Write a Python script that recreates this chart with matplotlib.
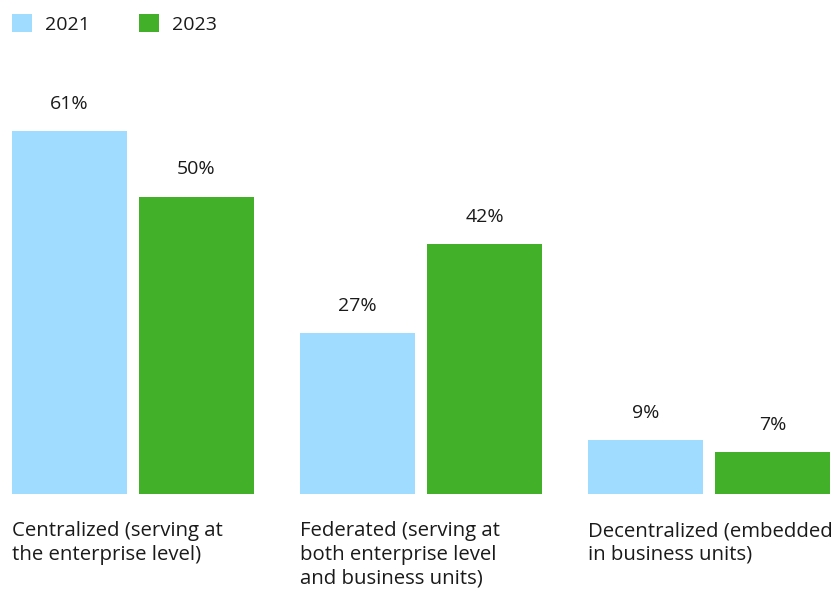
import matplotlib
matplotlib.use("Agg")
import matplotlib.pyplot as plt
import numpy as np

plt.rcParams['font.family'] = ['Open Sans', 'DejaVu Sans']

categories = [
    "Centralized (serving at\nthe enterprise level)",
    "Federated (serving at\nboth enterprise level\nand business units)",
    "Decentralized (embedded\nin business units)",
]
years = ["2021", "2023"]
values_2021 = [61, 27, 9]
values_2023 = [50, 42, 7]

colors = {"2021": "#A0DCFF", "2023": "#43B02A"}
text_color = "#1a1a1a"

W, H = 835, 593
fig = plt.figure(figsize=(W / 100, H / 100), dpi=100)
ax = fig.add_axes([10.6 / W, (H - 494) / H, 820.8 / W, 416.5 / H])

x = np.arange(len(categories))
bar_w = 0.399
off = 0.2205

bars = []
for series, vals, sgn in [("2021", values_2021, -1), ("2023", values_2023, 1)]:
    b = ax.bar(x + sgn * off, vals, width=bar_w, color=colors[series], label=series)
    bars.append(b)
    for xi, v in zip(x + sgn * off, vals):
        ax.annotate(f"{v}%", xy=(xi, v), xytext=(0, 22), textcoords="offset pixels",
                    ha="center", va="baseline", fontsize=14, color=text_color)

ax.set_xlim(-0.425, 2.425)
ax.set_ylim(0, 70)
ax.axis("off")

for xi, lab in zip(x, categories):
    ax.annotate(lab, xy=(xi - off - bar_w / 2, 0), xytext=(0, -27), textcoords="offset pixels",
                ha="left", va="top", fontsize=14.7, color=text_color, linespacing=1.24,
                annotation_clip=False)

fig.legend(handles=bars, labels=years, loc="upper left",
           bbox_to_anchor=(11.5 / W, 1 - 14 / H), bbox_transform=fig.transFigure,
           frameon=False, ncol=2, fontsize=14, handlelength=1.03, handleheight=1.03,
           handletextpad=0.67, columnspacing=2.55, borderpad=0, borderaxespad=0,
           labelcolor=text_color)

fig.savefig("out.png", dpi=100, facecolor="white")
